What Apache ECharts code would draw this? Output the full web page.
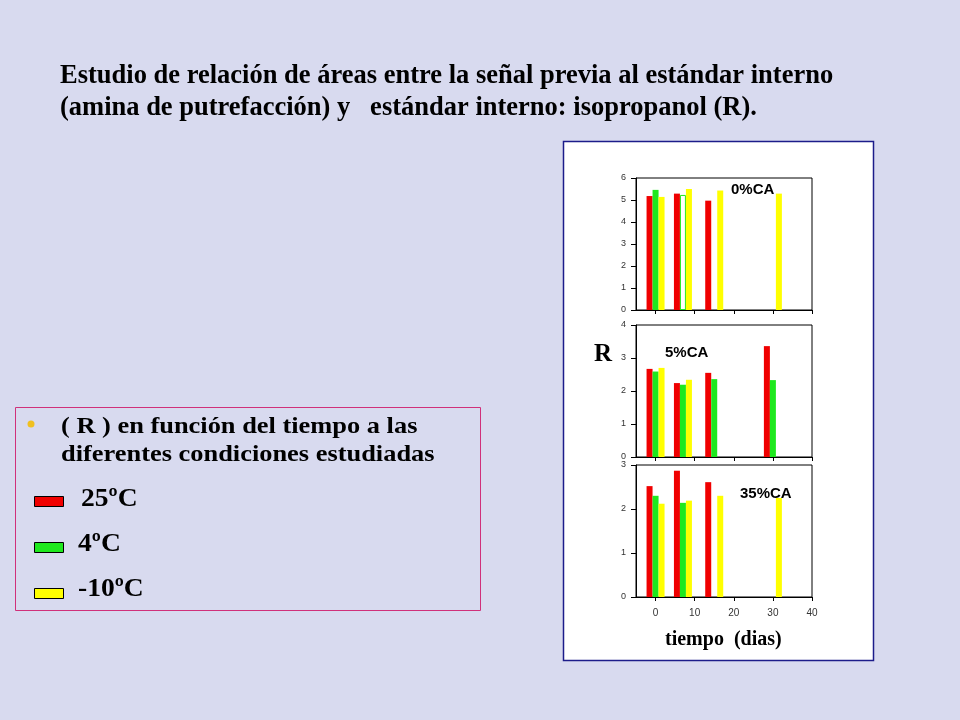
<!DOCTYPE html>
<html>
<head>
<meta charset="utf-8">
<script src="https://cdn.jsdelivr.net/npm/echarts@6/dist/echarts.min.js"></script>
<style>
  html, body { margin: 0; padding: 0; background: #d8daef; }
  #grafico { width: 960px; height: 720px; }
</style>
</head>
<body>
<div id="grafico"></div>
<script>
// Dias de muestreo (eje x)
const dias = [0, 7, 15, 30];
const ticksX = [0, 10, 20, 30, 40];

// R para 0%CA
const r25_0 = [5.18, 5.29, 4.97, null];
const r4_0 = [5.46, 5.23, null, null];
const rm10_0 = [5.14, 5.50, 5.43, 5.29];

// R para 5%CA
const r25_5 = [2.67, 2.24, 2.55, 3.36];
const r4_5 = [2.59, 2.19, 2.36, 2.33];
const rm10_5 = [2.70, 2.34, null, null];

// R para 35%CA
const r25_35 = [2.52, 2.87, 2.61, null];
const r4_35 = [2.30, 2.14, null, null];
const rm10_35 = [2.12, 2.19, 2.30, 2.25];

// Etiquetas
const paneles = ["0%CA", "5%CA", "35%CA"];
const maxY = [6, 4, 3];
const leyenda = ["25ºC", "4ºC", "-10ºC"];
const colores = ["#f00000", "#1ee81e", "#ffff00"];

// la barra verde del dia 7 en 0%CA sale solo con contorno
const soloContorno = [false, true, false, false];

// Posicion de cada panel
const grids = [
    { left: 636, right: 148, top: 178, height: 132 },
    { left: 636, right: 148, top: 325, height: 132 },
    { left: 636, right: 148, top: 465, height: 132 }
];

const datos = [
    [r25_0, r4_0, rm10_0],
    [r25_5, r4_5, rm10_5],
    [r25_35, r4_35, rm10_35]
];

const fuenteEje = 'Liberation Sans, Arial, sans-serif';
const fuenteSerif = 'Liberation Serif, Times New Roman, serif';
const sombra = { textShadowColor: 'rgba(90,90,110,0.55)', textShadowOffsetX: 2, textShadowOffsetY: 2 };

const xAxis = grids.map((g, i) => ({
    type: 'value',
    gridIndex: i,
    min: -5,
    max: 40,
    axisLine: { show: true, onZero: false, lineStyle: { color: '#000', width: 1 } },
    axisTick: { show: true, customValues: ticksX, length: 4, lineStyle: { color: '#000' } },
    axisLabel: {
        show: i === 2,
        customValues: ticksX,
        color: '#333',
        fontSize: 10,
        fontFamily: fuenteEje,
        margin: 11
    },
    splitLine: { show: false }
}));

const yAxis = grids.map((g, i) => ({
    type: 'value',
    gridIndex: i,
    min: 0,
    max: maxY[i],
    interval: 1,
    axisLine: { show: true, onZero: false, lineStyle: { color: '#000', width: 1 } },
    axisTick: { show: true, length: 5, lineStyle: { color: '#000' } },
    axisLabel: { color: '#333', fontSize: 9, fontFamily: fuenteEje, margin: 10 },
    splitLine: { show: false }
}));

const series = [];
datos.forEach((panel, p) => {
    panel.forEach((valores, s) => {
        series.push({
            type: 'bar',
            name: leyenda[s],
            xAxisIndex: p,
            yAxisIndex: p,
            barWidth: 6,
            barGap: '0%',
            itemStyle: { color: colores[s] },
            data: valores.map((v, k) => {
                if (v === null) return [dias[k], null];
                if (p === 0 && s === 1 && soloContorno[k]) {
                    return {
                        value: [dias[k], v],
                        itemStyle: { color: 'rgba(0,0,0,0)', borderColor: colores[s], borderWidth: 1 }
                    };
                }
                return [dias[k], v];
            })
        });
    });
});

// Elementos de la diapositiva
const graphic = [
    // caja blanca del grafico
    { type: 'rect', z: -10, shape: { x: 563.5, y: 141.5, width: 310, height: 519 },
      style: { fill: '#fff', stroke: '#1c1c8a', lineWidth: 1.5 } },
    // titulo
    { type: 'text', x: 60, y: 63,
      style: { text: 'Estudio de relación de áreas entre la señal previa al estándar interno',
               font: 'bold 26.5px ' + fuenteSerif, fill: '#000' } },
    { type: 'text', x: 60, y: 95,
      style: { text: '(amina de putrefacción) y   estándar interno: isopropanol (R).',
               font: 'bold 26.5px ' + fuenteSerif, fill: '#000' } },
    // etiquetas de los paneles
    { type: 'text', x: 731, y: 182, style: { text: paneles[0], font: 'bold 15px ' + fuenteEje, fill: '#000' } },
    { type: 'text', x: 665, y: 345, style: { text: paneles[1], font: 'bold 15px ' + fuenteEje, fill: '#000' } },
    { type: 'text', x: 740, y: 486, style: { text: paneles[2], font: 'bold 15px ' + fuenteEje, fill: '#000' } },
    // R del eje y
    { type: 'text', x: 594, y: 342, style: { text: 'R', font: 'bold 25px ' + fuenteSerif, fill: '#000' } },
    // titulo eje x
    { type: 'text', x: 665, y: 630, style: { text: 'tiempo  (dias)', font: 'bold 20px ' + fuenteSerif, fill: '#000' } },
    // caja de la izquierda
    { type: 'rect', shape: { x: 15.5, y: 407.5, width: 465, height: 203 },
      style: { fill: 'none', stroke: '#d0307a', lineWidth: 1 } },
    { type: 'circle', shape: { cx: 31, cy: 424, r: 3.5 }, style: { fill: '#f0c020' } },
    { type: 'text', x: 61, y: 415, scaleX: 1.1,
      style: Object.assign({ text: '( R ) en función del tiempo a las', font: 'bold 24px ' + fuenteSerif, fill: '#000' }, sombra) },
    { type: 'text', x: 61, y: 442.5, scaleX: 1.1,
      style: Object.assign({ text: 'diferentes condiciones estudiadas', font: 'bold 24px ' + fuenteSerif, fill: '#000' }, sombra) }
];

// muestras de la leyenda
const yLeyenda = [496, 542, 588];
const yTexto = [486.5, 531, 576];
const xTexto = [81, 78, 78];
leyenda.forEach((t, i) => {
    graphic.push({ type: 'rect', shape: { x: 34.5, y: yLeyenda[i] + 0.5, width: 29, height: 10 },
        style: { fill: colores[i], stroke: '#000', lineWidth: 1 } });
    graphic.push({ type: 'text', x: xTexto[i], y: yTexto[i], scaleX: 1.06,
        style: Object.assign({ text: t, font: 'bold 26px ' + fuenteSerif, fill: '#000' }, sombra) });
});

const chart = echarts.init(document.getElementById('grafico'));
chart.setOption({
    backgroundColor: '#d8daef',
    animation: false,
    grid: grids.map(g => Object.assign({ show: true, borderColor: '#000', borderWidth: 1, backgroundColor: 'transparent' }, g)),
    xAxis,
    yAxis,
    series,
    graphic
});
</script>
</body>
</html>
